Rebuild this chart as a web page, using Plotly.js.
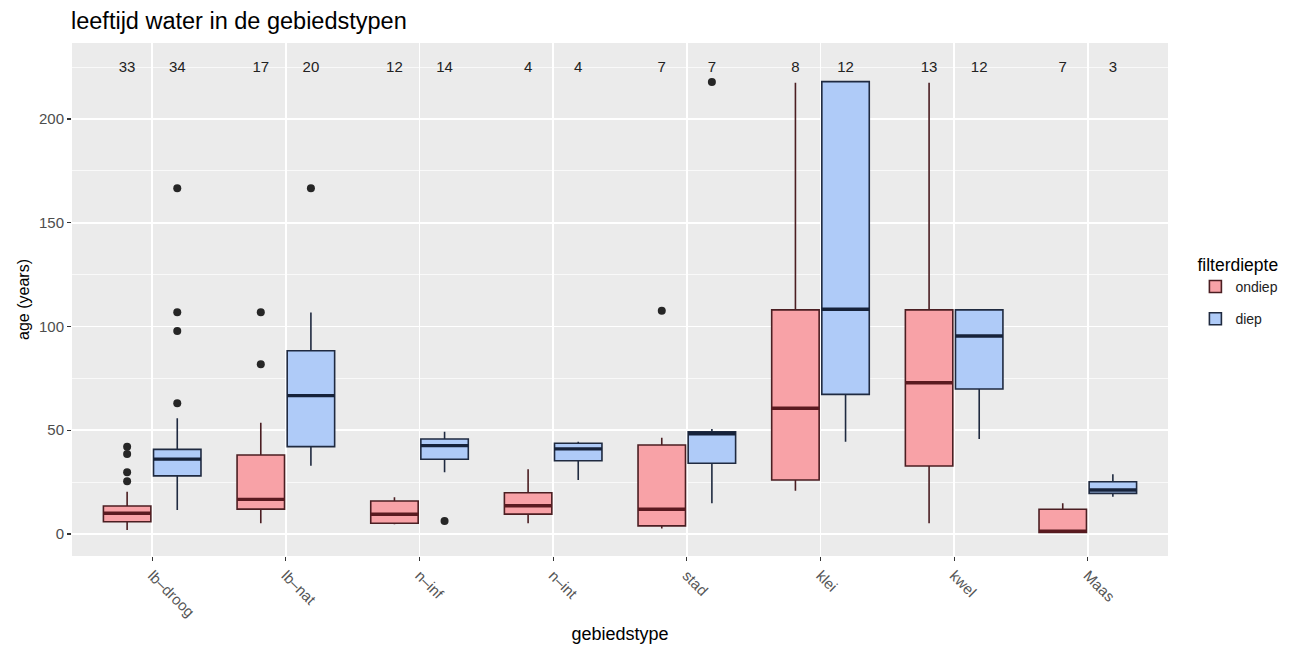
<!DOCTYPE html>
<html>
<head>
<meta charset="utf-8">
<script src="https://cdn.plot.ly/plotly-3.0.1.min.js"></script>
<style>html,body{margin:0;padding:0;background:#fff;}#chart{width:1306px;height:648px;}</style>
</head>
<body>
<div id="chart"></div>
<script>
// ---- data ----
const categories = ["lb\u2013droog", "lb\u2013nat", "n\u2013inf", "n\u2013int", "stad", "klei", "kwel", "Maas"];

// ondiep (shallow)
const ondiepLower  = [1.9, 5.2, 4.7, 5.2, 2.7, 20.9, 5.2, 0.8];
const ondiepQ1     = [5.9, 12.0, 5.2, 9.6, 3.9, 26.0, 32.8, 0.8];
const ondiepMedian = [10.0, 16.7, 9.5, 13.6, 11.9, 60.6, 72.9, 1.4];
const ondiepQ3     = [13.5, 38.1, 15.9, 19.9, 42.9, 108.0, 108.0, 11.9];
const ondiepUpper  = [20.4, 53.6, 17.7, 31.2, 46.4, 217.5, 217.5, 14.8];
const ondiepCount  = [33, 17, 12, 4, 7, 8, 13, 7];
const ondiepOutCat = [0, 0, 0, 0, 1, 1, 4];
const ondiepOutVal = [42.1, 38.6, 29.8, 25.4, 106.8, 81.8, 107.6];

// diep (deep)
const diepLower  = [11.6, 32.9, 29.7, 26.0, 14.8, 44.5, 45.8, 18.0];
const diepQ1     = [28.0, 42.1, 36.0, 35.3, 34.1, 67.3, 69.9, 19.6];
const diepMedian = [36.1, 66.7, 42.6, 41.0, 48.3, 108.3, 95.4, 21.2];
const diepQ3     = [40.8, 88.3, 45.8, 43.7, 49.3, 218.0, 108.0, 25.2];
const diepUpper  = [55.8, 106.7, 49.3, 44.5, 50.6, 218.0, 108.0, 28.8];
const diepCount  = [34, 20, 14, 4, 7, 12, 12, 3];
const diepOutCat = [0, 0, 0, 0, 1, 2, 4];
const diepOutVal = [166.6, 106.8, 97.8, 63.0, 166.6, 6.3, 217.8];

const countLabelY = 224.4;

// ---- style ----
const OFFSET = 0.1875, BOXW = 0.355;
const ondiepFill = "#F8A2A7", ondiepLine = "#4B1E22", ondiepMed = "#5A1A20";
const diepFill = "#AFCBF8", diepLine = "#1F2A40", diepMed = "#16223A";
const FONT = "Liberation Sans, Arial, Helvetica, sans-serif";

const idx = categories.map((_, i) => i);
const posO = idx.map(i => i - OFFSET);
const posD = idx.map(i => i + OFFSET);

function medianSegs(pos, med) {
  const xs = [], ys = [];
  pos.forEach((p, i) => { xs.push(p - BOXW / 2, p + BOXW / 2, null); ys.push(med[i], med[i], null); });
  return {xs, ys};
}
const mO = medianSegs(posO, ondiepMedian);
const mD = medianSegs(posD, diepMedian);

const traces = [
  {type: "box", name: "ondiep", legendgroup: "o", x: posO, q1: ondiepQ1, median: ondiepMedian, q3: ondiepQ3,
   lowerfence: ondiepLower, upperfence: ondiepUpper, width: BOXW, boxpoints: false, whiskerwidth: 0,
   fillcolor: ondiepFill, line: {color: ondiepLine, width: 1.6}, hoverinfo: "skip"},
  {type: "box", name: "diep", legendgroup: "d", x: posD, q1: diepQ1, median: diepMedian, q3: diepQ3,
   lowerfence: diepLower, upperfence: diepUpper, width: BOXW, boxpoints: false, whiskerwidth: 0,
   fillcolor: diepFill, line: {color: diepLine, width: 1.6}, hoverinfo: "skip"},
  {type: "scatter", mode: "lines", x: mO.xs, y: mO.ys, line: {color: ondiepMed, width: 3.4},
   showlegend: false, hoverinfo: "skip", connectgaps: false},
  {type: "scatter", mode: "lines", x: mD.xs, y: mD.ys, line: {color: diepMed, width: 3.4},
   showlegend: false, hoverinfo: "skip", connectgaps: false},
  {type: "scatter", mode: "markers", x: ondiepOutCat.map(c => c - OFFSET), y: ondiepOutVal,
   marker: {color: "#262626", size: 8}, showlegend: false, hoverinfo: "skip"},
  {type: "scatter", mode: "markers", x: diepOutCat.map(c => c + OFFSET), y: diepOutVal,
   marker: {color: "#262626", size: 8}, showlegend: false, hoverinfo: "skip"},
  {type: "scatter", mode: "text", x: posO.concat(posD), y: posO.concat(posD).map(() => countLabelY),
   text: ondiepCount.concat(diepCount).map(String), textposition: "middle center",
   textfont: {family: FONT, size: 15, color: "#222"}, showlegend: false, hoverinfo: "skip"}
];

const layout = {
  width: 1306, height: 648,
  margin: {l: 72, r: 138, t: 43, b: 92},
  paper_bgcolor: "#ffffff", plot_bgcolor: "#EBEBEB",
  font: {family: FONT, color: "#4D4D4D"},
  title: {text: "leeftijd water in de gebiedstypen", x: 71 / 1306, xanchor: "left", xref: "container",
          y: 1 - 21 / 648, yanchor: "middle", yref: "container",
          font: {family: FONT, size: 23.5, color: "#000"}},
  showlegend: true,
  legend: {x: 1.025, xanchor: "left", y: 0.6, yanchor: "top", bgcolor: "rgba(0,0,0,0)",
           title: {text: "filterdiepte", font: {family: FONT, size: 17.5, color: "#000"}},
           font: {family: FONT, size: 14, color: "#222"}, tracegroupgap: 11},
  xaxis: {range: [-0.6, 7.6], tickmode: "array", tickvals: idx, ticktext: categories, tickangle: 45,
          ticks: "outside", ticklen: 4, tickcolor: "#333", tickwidth: 1.2,
          showgrid: true, gridcolor: "#ffffff", gridwidth: 1.6, zeroline: false, showline: false,
          tickfont: {family: FONT, size: 15, color: "#555"},
          title: {text: "gebiedstype", font: {family: FONT, size: 18, color: "#000"}, standoff: 8}},
  yaxis: {range: [-10.6, 236.6], tick0: 0, dtick: 50, ticks: "outside", ticklen: 4, tickcolor: "#333", tickwidth: 1.2,
          showgrid: true, gridcolor: "#ffffff", gridwidth: 1.6, zeroline: false, showline: false,
          minor: {tick0: 25, dtick: 50, showgrid: true, gridcolor: "#ffffff", gridwidth: 0.7, ticks: ""},
          tickfont: {family: FONT, size: 15, color: "#4D4D4D"},
          title: {text: "age (years)", font: {family: FONT, size: 16, color: "#000"}, standoff: 5}}
};

Plotly.newPlot("chart", traces, layout, {displayModeBar: false, staticPlot: true});
</script>
</body>
</html>
